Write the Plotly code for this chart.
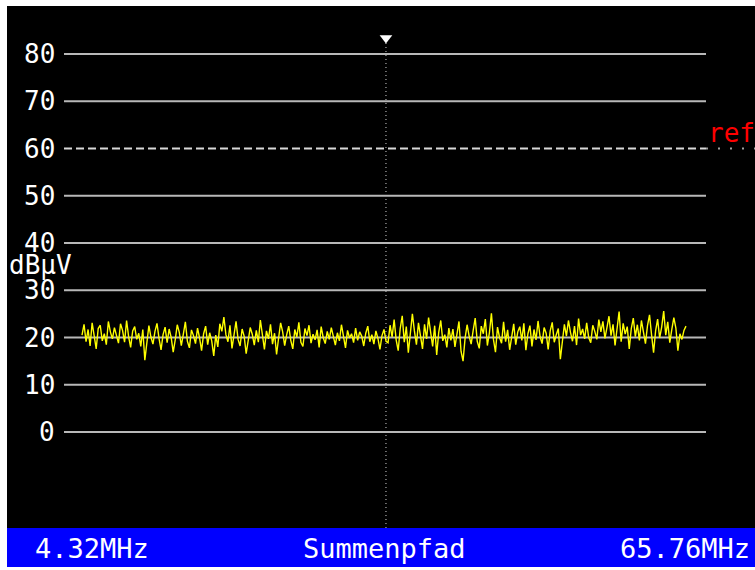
import numpy as np
import plotly.graph_objects as go

# ---- data ----
f_start_mhz = 4.32
f_stop_mhz = 65.76
marker_mhz = 35.24
ref_level = 60
y_ticks = [0, 10, 20, 30, 40, 50, 60, 70, 80]
unit_label = "dBμV"
center_label = "Summenpfad"
start_label = "4.32MHz"
stop_label = "65.76MHz"

level_dbuv = [
    20.5, 22.8, 19.1, 21.7, 18.2, 23.1, 20.4, 17.6, 21.9, 22.6, 19.3, 20.8, 18.5, 23.4, 21.2, 19.7, 22.1, 20.3, 18.8, 22.9, 21.5, 19.0, 23.6, 20.2, 17.9, 21.4, 22.3, 19.6, 20.9,
    18.1, 21.7, 15.2, 19.4, 22.5, 20.1, 18.6, 21.3, 23.0, 19.8, 17.4, 20.6, 22.2, 18.9, 21.8, 20.0, 16.9, 19.5, 22.7, 21.1, 18.3, 20.7, 23.3, 19.2, 17.8, 21.6, 20.4, 18.7, 22.0, 19.9,
    17.2, 20.8, 22.4, 18.5, 21.0, 19.3, 16.1, 20.5, 18.0, 22.9, 21.3, 24.3, 20.6, 19.1, 22.6, 17.7, 20.9, 23.4, 19.6, 18.2, 21.8, 20.3, 16.6, 19.8, 22.1, 20.7, 18.4, 21.5, 19.0, 23.7,
    20.2, 17.5, 21.4, 19.7, 22.8, 18.6, 20.9, 16.4, 19.9, 23.1, 21.2, 18.3, 20.6, 22.4, 19.4, 17.6, 21.7, 20.1, 23.2, 19.0, 18.1, 21.9, 20.4, 22.6, 18.8, 20.7, 19.5, 21.6, 17.9, 22.3,
    20.0, 18.7, 21.3, 19.6, 22.1, 20.2, 18.4, 21.0, 19.3, 22.7, 20.5, 17.8, 21.5, 19.9, 20.8, 18.9, 22.0, 19.4, 21.2, 20.3, 18.2, 20.9, 22.4, 19.1, 20.6, 18.6, 21.4, 19.8, 17.5, 20.4, 21.7, 19.2,
    18.9, 22.6, 20.1, 23.8, 19.5, 17.2, 21.9, 24.6, 19.0, 22.3, 16.8, 20.7, 25.0, 21.4, 18.5, 23.1, 20.2, 17.6, 22.8, 19.7, 24.2, 20.9, 18.1, 22.5, 16.3, 21.1, 23.6, 19.3, 20.6, 17.9, 22.0,
    19.4, 21.8, 18.0, 20.5, 23.4, 17.1, 15.0, 19.8, 22.7, 20.3, 18.6, 21.5, 24.1, 19.2, 17.7, 22.4, 20.8, 23.9, 18.3, 21.0, 25.1, 19.6, 16.9, 22.2, 20.0, 18.8, 23.3, 19.1, 21.6, 17.4, 20.7, 22.9, 18.5, 21.2,
    22.3, 19.4, 23.0, 17.3, 20.8, 22.5, 18.1, 21.7, 19.5, 23.5, 20.2, 18.7, 22.1, 20.9, 17.5, 21.4, 23.2, 19.0, 20.6, 21.9, 15.4, 18.6, 22.8, 20.3, 23.6, 21.1, 19.2, 22.4, 18.4, 24.0, 20.5, 21.8, 19.7, 23.1, 20.0, 18.9, 22.6, 21.3, 19.6, 23.8,
    21.2, 23.4, 19.8, 22.1, 24.5, 20.4, 22.8, 18.3, 21.6, 25.5, 19.1, 23.0, 20.7, 22.3, 17.6, 21.9, 24.1, 20.2, 22.7, 19.4, 23.6, 21.0, 18.7, 22.5, 24.8, 20.6, 16.8, 21.4, 23.9, 19.9, 22.2, 25.6, 20.5, 23.3, 18.9, 21.7, 24.2, 22.0, 17.2, 20.8, 19.6, 21.5, 22.4,
]
freq_mhz = np.linspace(f_start_mhz, f_stop_mhz, len(level_dbuv))

# ---- layout geometry ----
W, H = 755, 570
ML, MT, MR, MB = 7, 6, 0, 3
span = f_stop_mhz - f_start_mhz
kx = span / 604.0           # MHz per pixel
x_range = [f_start_mhz - 75 * kx, f_stop_mhz + 69 * kx]
ky = 4.725                  # px per dB
y_range = [-(H - MB - 432) / ky, (432 - MT) / ky]
grid_x0 = f_start_mhz - 18 * kx
grid_x1 = f_stop_mhz + 20 * kx
plot_h = H - MT - MB
bar_top = (H - MB - 528) / plot_h

FONT = "DejaVu Sans Mono"

fig = go.Figure()

shapes = []
# blue status bar
shapes.append(dict(type="rect", xref="paper", yref="paper", x0=0, x1=1, y0=0, y1=bar_top,
                   fillcolor="#0000ff", line=dict(width=0), layer="below"))
for t in y_ticks:
    if t == ref_level:
        shapes.append(dict(type="line", xref="x", yref="y", x0=grid_x0, x1=grid_x1, y0=t, y1=t,
                           line=dict(color="#d8d8d8", width=2, dash="8px,4px"), layer="below"))
        shapes.append(dict(type="line", xref="x", yref="y", x0=grid_x1, x1=x_range[1], y0=t, y1=t,
                           line=dict(color="#a0a0a0", width=2, dash="2px,10px"), layer="below"))
    else:
        shapes.append(dict(type="line", xref="x", yref="y", x0=grid_x0, x1=grid_x1, y0=t, y1=t,
                           line=dict(color="#b8b8b8", width=2), layer="below"))
# marker vertical dotted line
shapes.append(dict(type="line", xref="x", yref="paper", x0=marker_mhz, x1=marker_mhz,
                   y0=bar_top, y1=(H - MB - 42) / plot_h,
                   line=dict(color="#d0d0d0", width=1, dash="1px,3px"), layer="below"))

fig.add_trace(go.Scatter(x=freq_mhz, y=level_dbuv, mode="lines",
                         line=dict(color="#ffff00", width=1.4), hoverinfo="skip"))
# marker triangle
fig.add_trace(go.Scatter(x=[marker_mhz], y=[(432 - 38) / ky], mode="markers",
                         marker=dict(symbol="triangle-down", size=11, color="white",
                                     line=dict(width=0)), hoverinfo="skip"))

ann = []
for t in y_ticks:
    ann.append(dict(x=f_start_mhz - 25 * kx, y=t, xref="x", yref="y", text=str(t),
                    showarrow=False, xanchor="right", yanchor="middle",
                    font=dict(family=FONT, size=26, color="white")))
ann.append(dict(x=0, y=(432 - 265) / ky, xref="paper", yref="y", text=unit_label,
                showarrow=False, xanchor="left", yanchor="middle",
                font=dict(family=FONT, size=26, color="white")))
ann.append(dict(x=grid_x1, y=(432 - 133) / ky, xref="x", yref="y", text="ref",
                showarrow=False, xanchor="left", yanchor="middle",
                font=dict(family=FONT, size=26, color="#ff0000")))
bar_mid = (H - MB - 548) / plot_h
ann.append(dict(x=(33 - ML) / (W - ML - MR), y=bar_mid, xref="paper", yref="paper", text=start_label,
                showarrow=False, xanchor="left", yanchor="middle",
                font=dict(family=FONT, size=27, color="white")))
ann.append(dict(x=(384 - ML) / (W - ML - MR), y=bar_mid, xref="paper", yref="paper", text=center_label,
                showarrow=False, xanchor="center", yanchor="middle",
                font=dict(family=FONT, size=27, color="white")))
ann.append(dict(x=(752 - ML) / (W - ML - MR), y=bar_mid, xref="paper", yref="paper", text=stop_label,
                showarrow=False, xanchor="right", yanchor="middle",
                font=dict(family=FONT, size=27, color="white")))

fig.update_layout(
    width=W, height=H,
    margin=dict(l=ML, r=MR, t=MT, b=MB, pad=0),
    paper_bgcolor="white", plot_bgcolor="black",
    showlegend=False,
    xaxis=dict(range=x_range, visible=False, fixedrange=True),
    yaxis=dict(range=y_range, visible=False, fixedrange=True),
    shapes=shapes, annotations=ann,
)

fig.write_html("out.html", config={"displayModeBar": False},
               post_script="document.body.style.margin='0';document.body.style.overflow='hidden';")
